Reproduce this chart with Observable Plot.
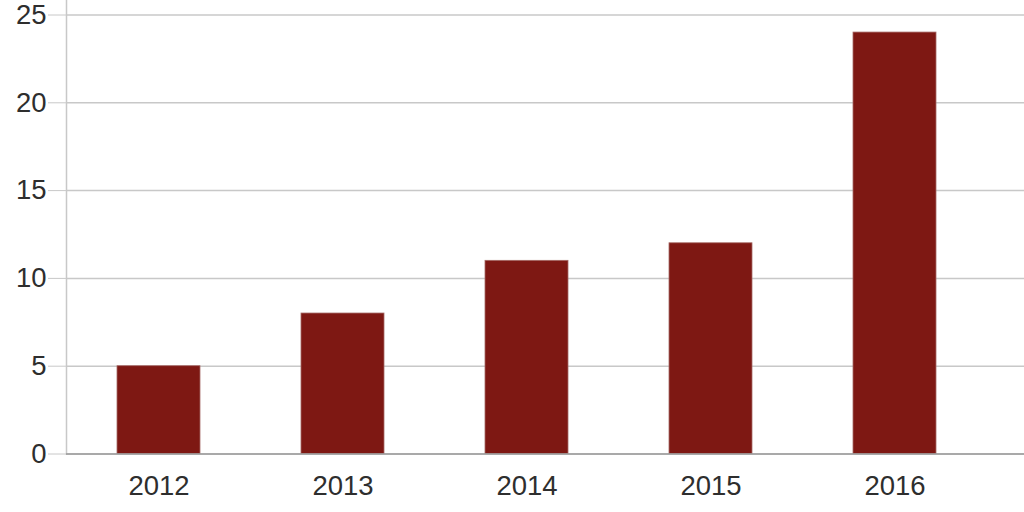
<!DOCTYPE html>
<html>
<head>
<meta charset="utf-8">
<script src="https://cdn.jsdelivr.net/npm/d3@7"></script>
<script src="https://cdn.jsdelivr.net/npm/@observablehq/plot@0.6"></script>
<style>
  html, body { margin: 0; padding: 0; background: #fff; }
  #chart svg { display: block; }
</style>
</head>
<body>
<div id="chart"></div>
<script>
const years = ["2012", "2013", "2014", "2015", "2016"];
const values = [5, 8, 11, 12, 24];
const yTicks = [0, 5, 10, 15, 20, 25];

const data = years.map((year, i) => ({year, value: values[i]}));

const chart = Plot.plot({
  width: 1024,
  height: 512,
  marginTop: 14.5,
  marginBottom: 58.5,
  marginLeft: 66,
  marginRight: 0,
  style: {fontFamily: "'Liberation Sans', Arial, sans-serif", fontSize: "27.5px", color: "#333", background: "#fff"},
  x: {domain: years, range: [66, 987], paddingInner: 0.55, paddingOuter: 0.27, label: null},
  y: {domain: [0, 25], label: null},
  marks: [
    Plot.ruleY(yTicks, {stroke: "#c8c8c8", strokeWidth: 1.5, strokeOpacity: 1}),
    Plot.frame({anchor: "left", stroke: "#c8c8c8", strokeWidth: 1.5, insetTop: -15}),
    Plot.barY(data, {x: "year", y: "value", fill: "#7e1813", stroke: "#a56a66", strokeWidth: 0.8}),
    Plot.ruleY([0], {stroke: "#9a9a9a", strokeWidth: 1.5}),
    Plot.axisY({ticks: yTicks, tickSize: 18, tickPadding: 2, stroke: "#c8c8c8", fill: "#2e2e2e", fontSize: 27.5, label: null}),
    Plot.axisX({tickSize: 0, tickPadding: 21, fill: "#2e2e2e", fontSize: 27.5, label: null})
  ]
});

document.getElementById("chart").appendChild(chart);
</script>
</body>
</html>
